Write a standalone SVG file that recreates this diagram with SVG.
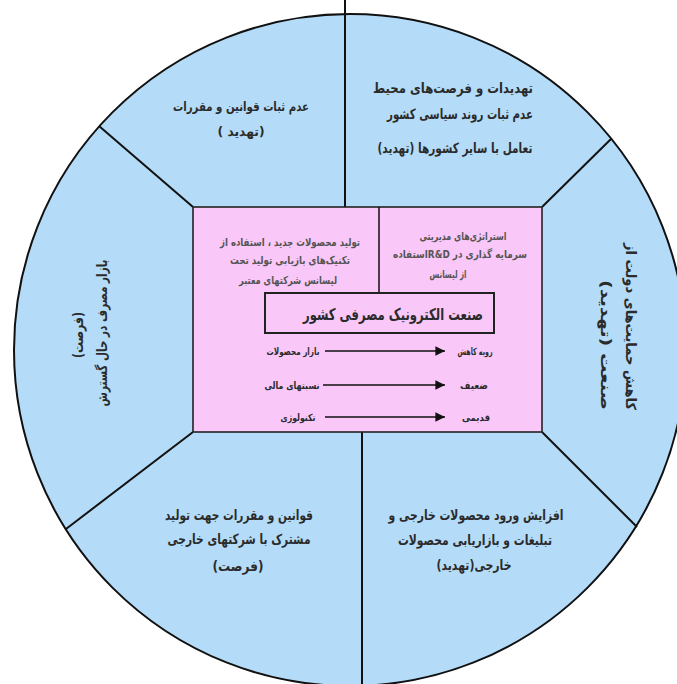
<svg xmlns="http://www.w3.org/2000/svg" width="677" height="684" viewBox="0 0 677 684">
<style>
.seg{fill:#b4dcf8;stroke:#111;stroke-width:2}
.box{fill:#fac8f8;stroke:#222;stroke-width:1.6}
.ln{stroke:#111;stroke-width:2;fill:none}
.ar{stroke:#111;stroke-width:1.6;fill:none}
.t{font-family:"DejaVu Sans",sans-serif;font-weight:bold;fill:#2b2b2b;text-anchor:middle;direction:rtl}
.f14{font-size:14px}
.f13{font-size:13px}
.f11{font-size:11px;fill:#555}
.f10{font-size:10px}
.f16{font-size:16px}
</style>
<defs>
<marker id="ah" viewBox="0 0 10 10" refX="10" refY="5" markerWidth="6" markerHeight="6" orient="auto" markerUnits="strokeWidth">
<path d="M0,0 L10,5 L0,10 z" fill="#111"/>
</marker>
</defs>
<rect width="677" height="684" fill="#fff"/>
<circle class="seg" cx="350" cy="350" r="336"/>
<g id="connectors">
<line class="ln" x1="345" y1="0" x2="345" y2="207"/>
<line class="ln" x1="193" y1="207" x2="99" y2="126"/>
<line class="ln" x1="542" y1="207" x2="611" y2="139"/>
<line class="ln" x1="193" y1="432" x2="66" y2="529"/>
<line class="ln" x1="542" y1="432" x2="637" y2="527"/>
<line class="ln" x1="362" y1="424" x2="362" y2="684"/>
</g>
<g id="center-box">
<rect class="box" x="193" y="207" width="349" height="225"/>
<line class="ln" x1="379" y1="207" x2="379" y2="293" style="stroke-width:1.5"/>
<text class="t f11" x="290" y="246" textLength="140" lengthAdjust="spacingAndGlyphs">تولید محصولات جدید ، استفاده از</text>
<text class="t f11" x="290" y="264" textLength="120" lengthAdjust="spacingAndGlyphs">تکنیک‌های بازیابی تولید تحت</text>
<text class="t f11" x="288" y="284" textLength="98" lengthAdjust="spacingAndGlyphs">لیسانس شرکتهای معتبر</text>
<text class="t f11" x="463" y="240" textLength="87" lengthAdjust="spacingAndGlyphs">استراتژی‌های مدیریتی</text>
<text class="t f11" x="460" y="258" textLength="134" lengthAdjust="spacingAndGlyphs">سرمایه گذاری در R&amp;Dاستفاده</text>
<text class="t f11" x="448" y="278" textLength="37" lengthAdjust="spacingAndGlyphs">از لیسانس</text>
</g>
<g id="title">
<rect x="265" y="293" width="229" height="40" fill="#fac8f8" stroke="#222" stroke-width="2"/>
<text class="t f16" x="393" y="320" textLength="180" lengthAdjust="spacingAndGlyphs">صنعت الکترونیک مصرفی کشور</text>
</g>
<g id="row1">
<line class="ar" x1="325" y1="351" x2="445" y2="351" marker-end="url(#ah)"/>
<text class="t f10" x="293" y="355" textLength="53" lengthAdjust="spacingAndGlyphs">بازار محصولات</text>
<text class="t f10" x="475" y="355" textLength="35" lengthAdjust="spacingAndGlyphs">رویه کاهش</text>
</g>
<g id="row2">
<line class="ar" x1="323" y1="385" x2="445" y2="385" marker-end="url(#ah)"/>
<text class="t f10" x="292" y="389" textLength="55" lengthAdjust="spacingAndGlyphs">نسبتهای مالی</text>
<text class="t f10" x="474" y="389" textLength="28" lengthAdjust="spacingAndGlyphs">ضعیف</text>
</g>
<g id="row3">
<line class="ar" x1="325" y1="417" x2="445" y2="417" marker-end="url(#ah)"/>
<text class="t f10" x="298" y="421" textLength="35" lengthAdjust="spacingAndGlyphs">تکنولوژی</text>
<text class="t f10" x="476" y="421" textLength="28" lengthAdjust="spacingAndGlyphs">قدیمی</text>
</g>
<g id="seg-top-left">
<text class="t f13" x="241" y="111" textLength="136" lengthAdjust="spacingAndGlyphs">عدم ثبات قوانین و مقررات</text>
<text class="t f13" x="241" y="136" textLength="47" lengthAdjust="spacingAndGlyphs">(تهدید )</text>
</g>
<g id="seg-top-right">
<text class="t f14" x="453" y="93" textLength="160" lengthAdjust="spacingAndGlyphs">تهدیدات و فرصت‌های محیط</text>
<text class="t f14" x="460" y="119" textLength="146" lengthAdjust="spacingAndGlyphs">عدم ثبات روند سیاسی کشور</text>
<text class="t f14" x="455" y="153" textLength="155" lengthAdjust="spacingAndGlyphs">تعامل با سایر کشورها (تهدید)</text>
</g>
<g id="seg-right">
<text class="t f14" transform="translate(626,326.5) rotate(90)" x="0" y="0" textLength="167" lengthAdjust="spacingAndGlyphs">کاهش حمایت‌های دولت از</text>
<text class="t f14" transform="translate(601,345) rotate(90)" x="0" y="0" textLength="130" lengthAdjust="spacingAndGlyphs">صنعت (تهدید)</text>
</g>
<g id="seg-left">
<text class="t f14" transform="translate(107,333) rotate(-90)" x="0" y="0" textLength="147" lengthAdjust="spacingAndGlyphs">بازار مصرف در حال گسترش</text>
<text class="t f14" transform="translate(83,335) rotate(-90)" x="0" y="0" textLength="46" lengthAdjust="spacingAndGlyphs">(فرصت)</text>
</g>
<g id="seg-bottom-left">
<text class="t f14" x="239" y="520" textLength="148" lengthAdjust="spacingAndGlyphs">قوانین و مقررات جهت تولید</text>
<text class="t f14" x="239" y="544" textLength="143" lengthAdjust="spacingAndGlyphs">مشترک با شرکتهای خارجی</text>
<text class="t f14" x="238" y="571" textLength="51" lengthAdjust="spacingAndGlyphs">(فرصت)</text>
</g>
<g id="seg-bottom-right">
<text class="t f14" x="476" y="520" textLength="175" lengthAdjust="spacingAndGlyphs">افزایش ورود محصولات خارجی و</text>
<text class="t f14" x="475" y="545" textLength="154" lengthAdjust="spacingAndGlyphs">تبلیغات و بازاریابی محصولات</text>
<text class="t f14" x="474" y="570" textLength="75" lengthAdjust="spacingAndGlyphs">خارجی(تهدید)</text>
</g>
</svg>
